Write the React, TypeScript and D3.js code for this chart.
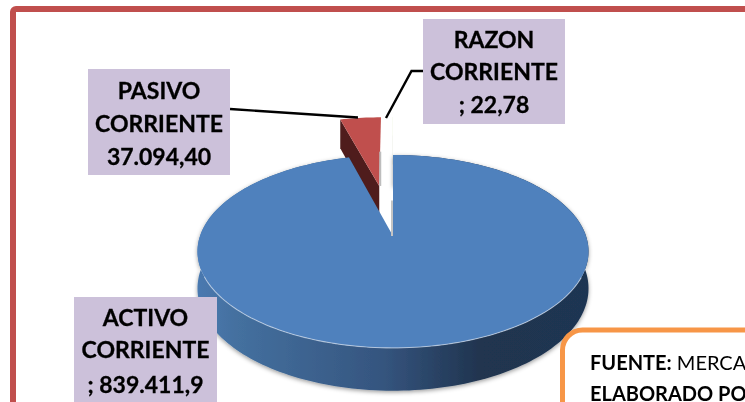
import React from 'react';
import * as d3 from 'd3';

const categories = ['ACTIVO CORRIENTE', 'PASIVO CORRIENTE', 'RAZON CORRIENTE'];
const values = [839411.9, 37094.4, 22.78];
const topColors = ['#4f81bd', '#c0504d', '#9bbb59'];
const sideColors = ['url(#blueWall)', '#4f1f1e', '#5f7330'];

const WIDTH = 745;
const HEIGHT = 402;

// perspective of the 3d pie
const cx = 393;
const cy = 236;
const rx = 193;
const ry = 94;
const k = 0.16;
const depth = 36;
const explode = [0, 0.587, 0.587];

const project = (u: number, v: number, z = 0): [number, number] => {
  const w = 1 + k * v;
  return [cx + (rx * u) / w, cy + (-ry * v + depth * z) / w];
};

const pieGen = d3.pie<number>().sort(null).value((d) => d);
const slices = pieGen(values);
const line = d3.line();

const rimPoints = (start: number, end: number, off: [number, number], z = 0) => {
  const n = Math.max(2, Math.ceil((end - start) * 40));
  return d3.range(n + 1).map((i) => {
    const a = start + ((end - start) * i) / n;
    return project(Math.sin(a) + off[0], Math.cos(a) + off[1], z);
  });
};

const offsetOf = (i: number): [number, number] => {
  const mid = (slices[i].startAngle + slices[i].endAngle) / 2;
  return [Math.sin(mid) * explode[i], Math.cos(mid) * explode[i]];
};

const labels = [
  { lines: ['ACTIVO', 'CORRIENTE', '; 839.411,9'], x: 74, y: 297, w: 143, h: 120, base: [326, 358, 393] },
  { lines: ['PASIVO', 'CORRIENTE', '37.094,40'], x: 88, y: 69, w: 142, h: 106, base: [99, 132, 165] },
  { lines: ['RAZON', 'CORRIENTE', '; 22,78'], x: 423, y: 19, w: 142, h: 105, base: [48, 80, 113] },
];

const leaders: [number, number][][] = [
  [[230, 109], [358, 117.5]],
  [[423, 71], [411.5, 71], [386, 118]],
];

const textFont = 'Lato, "Open Sans", sans-serif';

export default function App() {
  // back slices first, the big one goes over them
  const order = [2, 1, 0];
  return (
    <svg
      width={WIDTH}
      height={HEIGHT}
      viewBox={`0 0 ${WIDTH} ${HEIGHT}`}
      style={{ position: 'fixed', left: 0, top: 0, background: '#fff' }}
    >
      <defs>
        <linearGradient id="blueWall" gradientUnits="userSpaceOnUse" x1={197} x2={590} y1={0} y2={0}>
          <stop offset="0" stopColor="#4a79b0" />
          <stop offset="0.1" stopColor="#44709f" />
          <stop offset="0.47" stopColor="#35557f" />
          <stop offset="0.72" stopColor="#20344f" />
          <stop offset="1" stopColor="#1f3552" />
        </linearGradient>
        <filter id="soft" x="-5%" y="-5%" width="110%" height="110%">
          <feGaussianBlur stdDeviation="0.45" />
        </filter>
        <filter id="shadow" x="-10%" y="-10%" width="120%" height="120%">
          <feDropShadow dx="0" dy="1.5" stdDeviation="2" floodColor="#000" floodOpacity="0.4" />
        </filter>
      </defs>

      <g filter="url(#soft)">
        <rect x={13} y={9} width={WIDTH + 40} height={HEIGHT + 40} rx={3} fill="#fff" stroke="#c0504d" strokeWidth={6} />

        <g>
          {order.map((i) => {
            const s = slices[i];
            const off = offsetOf(i);
            const apexTop = project(off[0], off[1]);
            const apexLow = project(off[0], off[1], 1);
            const topRim = rimPoints(s.startAngle, s.endAngle, off);
            const lowRim = rimPoints(s.startAngle, s.endAngle, off, 1);
            // the cut wall on the start side of the slice, the only one seen for the small slices
            const cutStart = [apexTop, topRim[0], lowRim[0], apexLow];
            const endRim = topRim[topRim.length - 1];
            return (
              <g key={categories[i]}>
                {i === 0 ? (
                  <path
                    d={line([...topRim, ...[...lowRim].reverse()]) + 'Z'}
                    fill={sideColors[i]}
                    filter="url(#shadow)"
                  />
                ) : (
                  <path d={line(cutStart) + 'Z'} fill={sideColors[i]} />
                )}
                <path d={line([apexTop, ...topRim]) + 'Z'} fill={topColors[i]} />
                {i === 1 && (
                  <path
                    d={line([apexTop, [apexTop[0], (apexTop[1] + endRim[1]) / 2]].map(([x, y]) => [x + 1, y] as [number, number])) ?? ''}
                    fill="none"
                    stroke="#bdbdbd"
                    strokeWidth={2}
                  />
                )}
                {i === 0 && (
                  <path
                    d={line([apexTop, [apexTop[0], (apexTop[1] + topRim[0][1]) / 2 + 5]].map(([x, y]) => [x - 1, y] as [number, number])) ?? ''}
                    fill="none"
                    stroke="#c4c4c4"
                    strokeWidth={2}
                  />
                )}
                {i === 0 && (
                  <path
                    d={line(topRim.filter((p) => p[1] > cy + 40)) ?? ''}
                    fill="none"
                    stroke="#dfe8f3"
                    strokeOpacity={0.6}
                    strokeWidth={1.1}
                  />
                )}
              </g>
            );
          })}
        </g>

        {leaders.map((pts, i) => (
          <path key={i} d={line(pts) ?? ''} fill="none" stroke="#000" strokeWidth={2.4} />
        ))}

        {labels.map((l) => (
          <g key={l.lines[0]}>
            <rect x={l.x} y={l.y} width={l.w} height={l.h} fill="#ccc1da" />
            {l.lines.map((t, j) => (
              <text
                key={t}
                x={l.x + l.w / 2}
                y={l.base[j]}
                textAnchor="middle"
                fontFamily={textFont}
                fontWeight={700}
                fontSize={23}
                stroke="#000"
                strokeWidth={0.3}
                fill="#000"
              >
                {t}
              </text>
            ))}
          </g>
        ))}

        <rect x={562.5} y={330} width={WIDTH} height={HEIGHT} rx={20} fill="#fff" stroke="#f79646" strokeWidth={5} />
        <text x={590} y={370} fontFamily={textFont} fontSize={20} fill="#000">
          <tspan fontWeight={700}>FUENTE:</tspan> MERCADO DE VALORES
        </text>
        <text x={590} y={401} fontFamily={textFont} fontSize={20} fontWeight={700} fill="#000">
          ELABORADO POR
        </text>
      </g>
    </svg>
  );
}
